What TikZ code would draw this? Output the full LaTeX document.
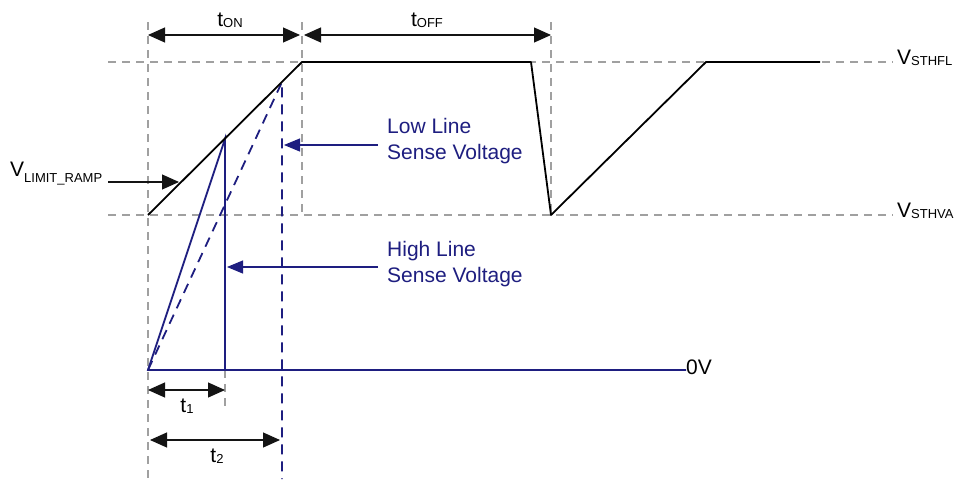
\documentclass[tikz,border=0pt]{standalone}
\usepackage{fontspec}
\setmainfont{Liberation Sans}
\usetikzlibrary{arrows.meta}
\definecolor{navyblue}{RGB}{30,30,128}
\definecolor{guidegray}{RGB}{160,160,160}
\definecolor{dimgrayc}{RGB}{20,20,20}
\newcommand{\lowsub}[2][3pt]{\raisebox{-#1}{\fontsize{13}{15}\selectfont #2}}
\begin{document}
\begin{tikzpicture}[x=1pt,y=-1pt,
  guide/.style={guidegray,line width=1.1pt,dash pattern=on 8pt off 6pt},
  wave/.style={black,line width=1.8pt,line join=round},
  bluewave/.style={navyblue,line width=1.8pt},
  bluedash/.style={navyblue,line width=1.8pt,dash pattern=on 10pt off 7pt},
  dimarrow/.style={dimgrayc,line width=1.1pt,{Triangle[length=17pt,width=15pt]}-{Triangle[length=17pt,width=15pt]}},
  blackptr/.style={dimgrayc,line width=1.1pt,-{Triangle[length=17pt,width=15pt]}},
  blueptr/.style={navyblue,line width=1.1pt,-{Triangle[length=16pt,width=13pt]}},
  lbl/.style={font=\fontsize{21}{25}\selectfont,inner sep=0pt},
  bluelbl/.style={font=\fontsize{21}{26}\selectfont,text=navyblue,align=left,inner sep=0pt,anchor=north west}
]
\useasboundingbox (0,0) rectangle (955,479);
\fill[white] (0,0) rectangle (955,479);

% guide lines
\draw[guide] (108,62) -- (893,62);
\draw[guide] (108,215) -- (893,215);
\draw[guide] (148,22) -- (148,479);
\draw[guide] (302,22) -- (302,215);
\draw[guide] (551,22) -- (551,215);
\draw[guide] (225,370) -- (225,410);

% key points
\coordinate (A) at (148,215);
\coordinate (B) at (302,62);
\coordinate (C) at (531,62);
\coordinate (D) at (551,215);
\coordinate (E) at (706,62);
\coordinate (F) at (820,62);
\coordinate (O) at (148,370);
\coordinate (P1) at (225,139);
\coordinate (P1b) at (225,370);
\coordinate (P2) at (282,82);
\coordinate (P2b) at (282,479);
\coordinate (Z) at (686,370);

% blue traces
\draw[bluewave] (Z) -- (O) -- (P1) -- (P1b);
\draw[bluedash] (O) -- (P2) -- (P2b);

% black waveform
\draw[wave] (A) -- (B) -- (C) -- (D) -- (E) -- (F);

% dimension arrows
\coordinate (tonL) at (148,35);
\coordinate (tonR) at (300,35);
\coordinate (toffL) at (304,35);
\coordinate (toffR) at (551,35);
\coordinate (t1L) at (148,390);
\coordinate (t1R) at (225,390);
\coordinate (t2L) at (150,440);
\coordinate (t2R) at (280,440);
\draw[dimarrow] (tonL) -- (tonR);
\draw[dimarrow] (toffL) -- (toffR);
\draw[dimarrow] (t1L) -- (t1R);
\draw[dimarrow] (t2L) -- (t2R);

\node[lbl] (ton) at (230,20) {t\lowsub[1pt]{ON}};
\node[lbl] (toff) at (427,20) {t\lowsub[1pt]{OFF}};
\node[lbl] (t1) at (187,406) {t\lowsub[1pt]{1}};
\node[lbl] (t2) at (217,456) {t\lowsub[1pt]{2}};

% right labels
\node[lbl,anchor=west] (vsthfl) at (897,58) {V\lowsub[1pt]{STHFL}};
\node[lbl,anchor=west] (vsthva) at (897,211) {V\lowsub[1pt]{STHVA}};
\node[lbl,anchor=west] (zerov) at (686,367) {0V};

% V limit ramp
\node[lbl,anchor=west] (vlim) at (10,174) {V\lowsub[6pt]{LIMIT\_RAMP}};
\coordinate (vlimS) at (108,182);
\coordinate (vlimE) at (179,182);
\draw[blackptr] (vlimS) -- (vlimE);

% blue labels
\node[bluelbl] (low) at (387,118) {Low Line\\Sense Voltage};
\node[bluelbl] (high) at (387,241) {High Line\\Sense Voltage};
\coordinate (lowS) at (378,145);
\coordinate (lowE) at (284,145);
\coordinate (highS) at (378,267);
\coordinate (highE) at (227,267);
\draw[blueptr] (lowS) -- (lowE);
\draw[blueptr] (highS) -- (highE);
\end{tikzpicture}
\end{document}
